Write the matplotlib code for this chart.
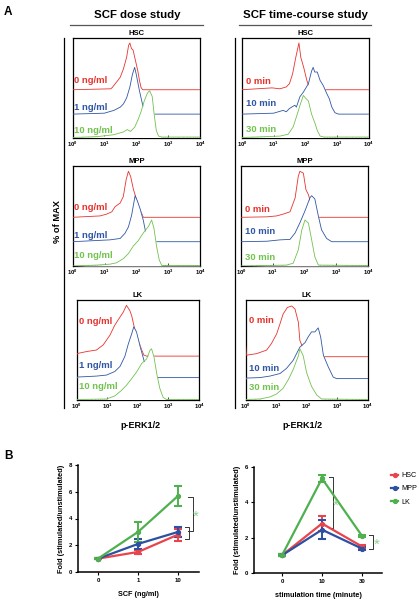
import numpy as np
import matplotlib
matplotlib.use("Agg")
import matplotlib.pyplot as plt
from matplotlib.lines import Line2D
from matplotlib.ticker import FixedLocator, LogLocator, NullFormatter

plt.rcParams['font.family'] = ['Liberation Sans', 'DejaVu Sans']
plt.rcParams['mathtext.fontset'] = 'custom'
plt.rcParams['mathtext.rm'] = 'Liberation Sans:bold'
plt.rcParams['mathtext.it'] = 'Liberation Sans:bold'

# ---- panel A : histogram curves (x = log10 of p-ERK1/2, y = % of max) ----
hsc_dose_red_x = [0, 1.2, 1.25, 1.4, 1.5, 1.6, 1.7, 1.76, 1.8, 1.85, 1.9, 1.95, 2.0, 2.05, 2.1, 2.15, 2.2, 4]
hsc_dose_red_y = [0, 2, 5, 18, 27, 45, 70, 95, 100, 88, 85, 70, 55, 40, 20, 5, 0, 0]
hsc_dose_blue_x = [0, 1.0, 1.3, 1.5, 1.6, 1.7, 1.8, 1.88, 1.95, 2.0, 2.1, 2.2, 2.3, 2.4, 4]
hsc_dose_blue_y = [0, 2, 8, 15, 22, 35, 58, 85, 100, 85, 50, 20, 3, 0, 0]
hsc_dose_green_x = [0, 0.8, 1.3, 1.6, 1.72, 1.82, 1.95, 2.05, 2.15, 2.25, 2.35, 2.42, 2.5, 2.57, 2.63, 2.7, 2.8, 4]
hsc_dose_green_y = [0, 2, 6, 12, 17, 13, 22, 37, 55, 78, 95, 100, 88, 45, 15, 3, 1, 1]

hsc_time_red_x = [0, 0.95, 1.2, 1.4, 1.5, 1.6, 1.7, 1.8, 1.86, 1.95, 2.05, 2.15, 4]
hsc_time_red_y = [0, 4, 2, 6, 13, 34, 69, 100, 69, 48, 20, 0, 0]
hsc_time_blue_x = [0, 1.0, 1.3, 1.4, 1.5, 1.67, 1.72, 1.83, 1.94, 2.1, 2.2, 2.25, 2.3, 2.38, 2.47, 2.57, 2.68, 2.76, 2.84, 2.94, 3.05, 4]
hsc_time_blue_y = [0, 2, 8, 5, 12, 19, 15, 37, 47, 65, 92, 100, 90, 90, 72, 61, 44, 33, 15, 3, 0, 0]
hsc_time_green_x = [0, 1.2, 1.46, 1.62, 1.72, 1.83, 1.94, 2.0, 2.1, 2.2, 2.31, 2.38, 2.47, 2.6, 4]
hsc_time_green_y = [0, 3, 7, 23, 44, 68, 90, 85, 78, 50, 30, 15, 3, 1, 1]

mpp_dose_red_x = [0, 0.86, 1.07, 1.23, 1.33, 1.49, 1.59, 1.68, 1.75, 1.82, 1.91, 2.01, 2.12, 2.22, 4]
mpp_dose_red_y = [0, 3, 7, 12, 23, 31, 45, 82, 100, 89, 60, 38, 16, 0, 0]
mpp_dose_blue_x = [0, 1.17, 1.49, 1.64, 1.75, 1.85, 1.96, 2.03, 2.12, 2.22, 2.3, 2.38, 4]
mpp_dose_blue_y = [0, 4, 7, 18, 32, 57, 100, 89, 71, 46, 18, 0, 0]
mpp_dose_green_x = [0, 0.75, 1.17, 1.38, 1.59, 1.75, 1.91, 2.06, 2.22, 2.38, 2.48, 2.55, 2.64, 2.72, 2.8, 4]
mpp_dose_green_y = [0, 2, 4, 7, 16, 27, 44, 55, 72, 86, 100, 83, 41, 13, 1, 1]

mpp_time_red_x = [0, 0.81, 1.12, 1.33, 1.54, 1.7, 1.8, 1.85, 1.96, 2.04, 2.12, 2.22, 2.32, 2.43, 4]
mpp_time_red_y = [0, 1, 3, 7, 12, 42, 89, 100, 96, 60, 49, 23, 5, 0, 0]
mpp_time_blue_x = [0, 0.81, 1.23, 1.54, 1.7, 1.85, 2.01, 2.17, 2.22, 2.32, 2.43, 2.53, 2.69, 2.85, 4]
mpp_time_blue_y = [0, 1, 4, 5, 19, 41, 67, 96, 100, 93, 56, 26, 7, 0, 0]
mpp_time_green_x = [0, 1.43, 1.64, 1.8, 1.91, 2.01, 2.12, 2.22, 2.32, 2.43, 4]
mpp_time_green_y = [0, 2, 6, 35, 78, 100, 93, 57, 20, 2, 1]

lk_dose_red_x = [0, 0.02, 0.33, 0.65, 0.87, 1.09, 1.25, 1.42, 1.53, 1.63, 1.74, 1.8, 1.91, 2.02, 2.13, 2.2, 2.29, 4]
lk_dose_red_y = [0, 5, 9, 12, 22, 41, 61, 77, 87, 100, 90, 80, 51, 31, 12, 2, 0, 0]
lk_dose_blue_x = [0, 0.65, 0.98, 1.25, 1.42, 1.58, 1.69, 1.8, 1.87, 1.96, 2.07, 2.18, 2.29, 2.45, 4]
lk_dose_blue_y = [1, 3, 5, 12, 22, 42, 66, 86, 100, 90, 63, 39, 15, 0, 0]
lk_dose_green_x = [0, 0.98, 1.25, 1.47, 1.63, 1.8, 1.96, 2.13, 2.29, 2.4, 2.45, 2.53, 2.62, 2.72, 2.83, 2.94, 4]
lk_dose_green_y = [0, 1, 7, 18, 28, 41, 54, 71, 80, 97, 100, 84, 51, 22, 4, 0, 0]

lk_time_red_x = [0, 0.03, 0.36, 0.69, 0.85, 1.02, 1.13, 1.23, 1.37, 1.51, 1.62, 1.73, 1.78, 1.87, 2.0, 2.11, 4]
lk_time_red_y = [25, 3, 6, 13, 26, 45, 65, 84, 97, 100, 94, 68, 32, 19, 6, 0, 0]
lk_time_blue_x = [0, 0.47, 0.8, 1.13, 1.34, 1.56, 1.78, 1.95, 2.05, 2.16, 2.27, 2.38, 2.46, 2.55, 2.71, 2.87, 2.98, 4]
lk_time_blue_y = [1, 2, 5, 10, 20, 36, 62, 71, 82, 92, 92, 100, 82, 46, 23, 3, 0, 0]
lk_time_green_x = [0, 0.47, 0.8, 1.02, 1.23, 1.4, 1.56, 1.73, 1.78, 1.89, 2.0, 2.16, 2.33, 2.49, 4]
lk_time_green_y = [0, 1, 5, 11, 22, 39, 59, 86, 100, 86, 53, 26, 9, 1, 0]

dose_labels = ['0 ng/ml', '1 ng/ml', '10 ng/ml']
time_labels = ['0 min', '10 min', '30 min']
cell_types = ['HSC', 'MPP', 'LK']

# ---- panel B : fold change ----
scf_ticks = ['0', '1', '10']
hsc_dose = [1.0, 1.5, 2.8]
hsc_dose_err = [0.05, 0.15, 0.45]
mpp_dose = [1.0, 2.1, 3.0]
mpp_dose_err = [0.05, 0.4, 0.4]
lk_dose = [1.0, 3.0, 5.7]
lk_dose_err = [0.05, 0.75, 0.75]

min_ticks = ['0', '10', '30']
hsc_time = [1.0, 2.8, 1.5]
hsc_time_err = [0.05, 0.45, 0.08]
mpp_time = [1.0, 2.45, 1.38]
mpp_time_err = [0.05, 0.55, 0.08]
lk_time = [1.0, 5.35, 2.1]
lk_time_err = [0.05, 0.2, 0.05]

W, H = 419, 600
fig = plt.figure(figsize=(W / 100, H / 100), dpi=100)


def px_axes(l, t, r, b):
    return fig.add_axes([l / W, 1 - b / H, (r - l) / W, (b - t) / H])


def px_text(x, y, s, **kw):
    fig.text(x / W, 1 - y / H, s, **kw)


def px_line(x0, y0, x1, y1, **kw):
    fig.add_artist(Line2D([x0 / W, x1 / W], [1 - y0 / H, 1 - y1 / H], **kw))


hred, hblue, hgreen = '#e8322c', '#2f56a4', '#72c24e'


def draw_hist(ax, curves, bases, scale, labels, label_pos, title):
    for i, ((cx, cy), col) in enumerate(zip(curves, [hred, hblue, hgreen])):
        xs = 10 ** np.array(cx)
        ys = bases[i] + scale * np.array(cy) / 100.0
        ax.fill_between(xs, bases[i], ys, color='white', zorder=2 + 2 * i, lw=0)
        ax.plot(xs, ys, color=col, lw=0.6, zorder=3 + 2 * i)
        ax.text(label_pos[0], label_pos[1][i], labels[i], color=col, fontsize=6.8,
                fontweight='bold', transform=ax.transAxes, va='center', ha='left', zorder=10)
    ax.set_xscale('log')
    ax.set_xlim(1, 1e4)
    ax.set_ylim(0, 1)
    ax.set_yticks([])
    ax.xaxis.set_major_locator(FixedLocator([1, 10, 100, 1000, 10000]))
    ax.set_xticklabels(['$10^{0}$', '$10^{1}$', '$10^{2}$', '$10^{3}$', '$10^{4}$'])
    ax.xaxis.set_minor_locator(LogLocator(subs=np.arange(2, 10)))
    ax.xaxis.set_minor_formatter(NullFormatter())
    ax.tick_params(axis='x', which='major', labelsize=4.2, length=2, width=0.5, pad=1.5, direction='in')
    ax.tick_params(axis='x', which='minor', length=1, width=0.4, direction='in')
    for s in ax.spines.values():
        s.set_linewidth(0.9)
    ax.set_title(title, fontsize=5.5, fontweight='bold', pad=2)


# histogram boxes in pixels (left, top, right, bottom)
dose_boxes = [(72.5, 38, 200, 137.5), (72.7, 166, 200, 266), (76.5, 300, 199, 399.5)]
time_boxes = [(242, 38, 368.5, 137.5), (241, 166, 368.3, 266), (245.5, 300, 367.7, 399.5)]

dose_curves = [
    [(hsc_dose_red_x, hsc_dose_red_y), (hsc_dose_blue_x, hsc_dose_blue_y), (hsc_dose_green_x, hsc_dose_green_y)],
    [(mpp_dose_red_x, mpp_dose_red_y), (mpp_dose_blue_x, mpp_dose_blue_y), (mpp_dose_green_x, mpp_dose_green_y)],
    [(lk_dose_red_x, lk_dose_red_y), (lk_dose_blue_x, lk_dose_blue_y), (lk_dose_green_x, lk_dose_green_y)],
]
time_curves = [
    [(hsc_time_red_x, hsc_time_red_y), (hsc_time_blue_x, hsc_time_blue_y), (hsc_time_green_x, hsc_time_green_y)],
    [(mpp_time_red_x, mpp_time_red_y), (mpp_time_blue_x, mpp_time_blue_y), (mpp_time_green_x, mpp_time_green_y)],
    [(lk_time_red_x, lk_time_red_y), (lk_time_blue_x, lk_time_blue_y), (lk_time_green_x, lk_time_green_y)],
]
row_bases = [[0.48, 0.235, 0.0], [0.487, 0.243, 0.0], [0.436, 0.22, 0.0]]
row_scales = [0.47, 0.46, 0.51]
dose_label_pos = [(0.012, [0.57, 0.30, 0.075]), (0.012, [0.59, 0.31, 0.10]), (0.02, [0.78, 0.34, 0.13])]
time_label_pos = [(0.035, [0.56, 0.34, 0.085]), (0.035, [0.57, 0.34, 0.09]), (0.03, [0.79, 0.31, 0.12])]

for r in range(3):
    ax = px_axes(*dose_boxes[r])
    draw_hist(ax, dose_curves[r], row_bases[r], row_scales[r], dose_labels, dose_label_pos[r], cell_types[r])
    ax = px_axes(*time_boxes[r])
    tb = row_bases[r] if r < 2 else [0.43, 0.21, 0.0]
    draw_hist(ax, time_curves[r], tb, row_scales[r], time_labels, time_label_pos[r], cell_types[r])

# panel A decorations
px_text(4, 12, 'A', fontsize=8.5, fontweight='bold', va='center')
px_text(137, 15, 'SCF dose study', fontsize=8.2, fontweight='bold', ha='center', va='center')
px_text(305, 15, 'SCF time-course study', fontsize=8.2, fontweight='bold', ha='center', va='center')
px_line(70, 24.5, 203, 24.5, color='#555555', lw=0.9)
px_line(239, 24.5, 371, 24.5, color='#555555', lw=0.9)
px_line(64, 38, 64, 408, color='black', lw=0.9)
px_line(235, 38, 235, 408, color='black', lw=0.9)
px_text(57, 222, '% of MAX', fontsize=6.7, fontweight='bold', rotation=90, ha='center', va='center')
px_text(140, 426, 'p-ERK1/2', fontsize=6.5, fontweight='bold', ha='center', va='center')
px_text(302, 426, 'p-ERK1/2', fontsize=6.5, fontweight='bold', ha='center', va='center')

# ---- panel B ----
bred, bblue, bgreen = '#e8444b', '#2d50a2', '#4fb04f'
star_green = '#8fd08f'
px_text(4, 456, 'B', fontsize=8.5, fontweight='bold', va='center')


def draw_fold(ax, series, errs, ticks, xlim, ylim, yticks, xlabel):
    for vals, err, col, lab in zip(series, errs, [bred, bblue, bgreen], cell_types):
        ax.errorbar(range(len(vals)), vals, yerr=err, color=col, lw=1.6, marker='o', ms=2.8,
                    capsize=2.8, capthick=1.5, elinewidth=1.4, label=lab)
    ax.set_xlim(*xlim)
    ax.set_ylim(*ylim)
    ax.set_xticks(range(len(ticks)))
    ax.set_xticklabels(ticks)
    ax.set_yticks(yticks)
    for s in ['top', 'right']:
        ax.spines[s].set_visible(False)
    for s in ['left', 'bottom']:
        ax.spines[s].set_linewidth(1.1)
    ax.tick_params(labelsize=4.3, length=2, width=0.8, pad=2)
    for lab in ax.get_xticklabels() + ax.get_yticklabels():
        lab.set_fontweight('bold')
    ax.set_ylabel('Fold (stimulated/unstimulated)', fontsize=5.3, fontweight='bold', labelpad=3)
    ax.set_xlabel(xlabel, fontsize=5.2, fontweight='bold', labelpad=6)


def bracket(ax, x, x_tick, y0, y1, color='#333333'):
    ax.plot([x_tick, x, x, x_tick], [y0, y0, y1, y1], color=color, lw=0.7, clip_on=False)


def star(ax, x, y):
    ax.text(x, y, '*', color=star_green, fontsize=11, ha='center', va='center', clip_on=False)


axl = px_axes(78, 465, 199, 572)
draw_fold(axl, [hsc_dose, mpp_dose, lk_dose], [hsc_dose_err, mpp_dose_err, lk_dose_err],
          scf_ticks, (-0.5, 2.52), (0, 8), [0, 2, 4, 6, 8], 'SCF (ng/ml)')
bracket(axl, 2.36, 2.24, 5.64, 3.03)
bracket(axl, 2.28, 2.18, 3.35, 2.48)
star(axl, 2.44, 4.1)

axr = px_axes(254, 467, 382, 573)
draw_fold(axr, [hsc_time, mpp_time, lk_time], [hsc_time_err, mpp_time_err, lk_time_err],
          min_ticks, (-0.7, 2.5), (0, 6), [0, 2, 4, 6], 'stimulation time (minute)')
bracket(axr, 1.27, 1.18, 5.43, 2.55)
bracket(axr, 2.28, 2.18, 2.13, 1.36)
star(axr, 1.35, 3.8)
star(axr, 2.38, 1.6)

handles = [Line2D([], [], color=c, lw=1.6, marker='o', ms=2.8) for c in [bred, bblue, bgreen]]
axr.legend(handles, cell_types, loc='upper left', bbox_to_anchor=(386 / W, 1 - 467 / H),
           bbox_transform=fig.transFigure, frameon=False, fontsize=5.2, handlelength=1.0,
           labelspacing=0.85, handletextpad=0.4, borderpad=0.2)

fig.savefig('out.png', dpi=100)
